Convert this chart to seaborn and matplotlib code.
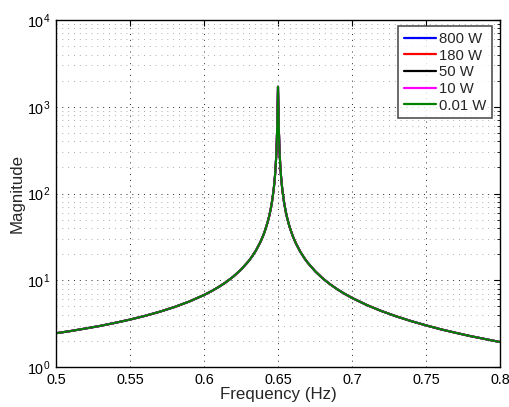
import numpy as np
import pandas as pd
import matplotlib
matplotlib.use("Agg")
import matplotlib.pyplot as plt
import seaborn as sns
from matplotlib.ticker import LogLocator, NullFormatter, FixedLocator

# Data (same response for all powers)
freq = [0.50, 0.51, 0.52, 0.53, 0.54, 0.55, 0.56, 0.57, 0.58, 0.59, 0.60,
        0.605, 0.61, 0.615, 0.62, 0.625, 0.63, 0.632, 0.635, 0.638, 0.64,
        0.641, 0.643, 0.644, 0.645, 0.646, 0.647, 0.6475, 0.648, 0.6485,
        0.649, 0.6495, 0.65, 0.6505, 0.651, 0.6515, 0.652, 0.6525, 0.653,
        0.654, 0.655, 0.656, 0.657, 0.658, 0.66, 0.662, 0.665, 0.668, 0.67,
        0.675, 0.68, 0.685, 0.69, 0.695, 0.70, 0.71, 0.72, 0.73, 0.74, 0.75,
        0.76, 0.77, 0.78, 0.79, 0.80]
magnitude = [2.45, 2.60, 2.78, 2.98, 3.23, 3.52, 3.88, 4.33, 4.91, 5.68, 6.76,
             7.48, 8.38, 9.54, 11.09, 13.26, 16.5, 18.3, 21.9, 27.3, 32.8,
             36.4, 46.7, 54.4, 65.2, 81.5, 108.6, 130, 162.6, 217,
             318, 610, 1700, 610, 318, 216, 162, 130, 108,
             81, 64.8, 53.9, 46.2, 40.4, 32.2, 26.8, 21.4, 17.8, 16.0,
             12.76, 10.59, 9.04, 7.88, 6.98, 6.26, 5.18, 4.41, 3.83, 3.38, 3.02,
             2.72, 2.48, 2.27, 2.10, 1.94]
series = ["800 W", "180 W", "50 W", "10 W", "0.01 W"]
colors = ["#0000ff", "#ff0000", "#000000", "#ff00ff", "#008000"]
xticks = [0.5, 0.55, 0.6, 0.65, 0.7, 0.75, 0.8]
xticklabels = ["0.5", "0.55", "0.6", "0.65", "0.7", "0.75", "0.8"]

df = pd.concat([pd.DataFrame({"Frequency": freq, "Magnitude": magnitude, "Power": s})
                for s in series], ignore_index=True)

sns.set_style("white")
plt.rcParams["font.family"] = ["Liberation Sans", "DejaVu Sans"]
plt.rcParams["mathtext.fontset"] = "custom"
plt.rcParams["mathtext.rm"] = "Liberation Sans"

fig = plt.figure(figsize=(5.10, 4.07), dpi=100)
ax = fig.add_axes([56/510, 1-367/407, 444/510, 347/407])

sns.lineplot(data=df, x="Frequency", y="Magnitude", hue="Power",
             hue_order=series, palette=colors, estimator=None, sort=False,
             linewidth=1.5, ax=ax)

ax.set_yscale("log")
ax.set_xlim(0.5, 0.8)
ax.set_ylim(1, 1e4)
ax.xaxis.set_major_locator(FixedLocator(xticks))
ax.set_xticklabels(xticklabels)
ax.yaxis.set_major_locator(LogLocator(base=10, numticks=10))
ax.yaxis.set_minor_locator(LogLocator(base=10, subs=np.arange(2, 10), numticks=20))
ax.yaxis.set_minor_formatter(NullFormatter())

ax.grid(True, which="major", linestyle=(0, (1, 5)), color="0.15", linewidth=0.7)
ax.grid(True, which="minor", axis="y", linestyle=(0, (1, 5)), color="0.68", linewidth=0.7)

for sp in ax.spines.values():
    sp.set_visible(True)
    sp.set_color("black")
    sp.set_linewidth(1.0)

ax.tick_params(which="both", direction="in", top=True, right=True,
               labelsize=10.4, colors="black", pad=4)
ax.tick_params(which="major", length=4.5)
ax.tick_params(which="minor", length=2.5)

ax.set_xlabel("Frequency (Hz)", fontsize=12.2, labelpad=0)
ax.set_ylabel("Magnitude", fontsize=12.2, labelpad=2)

leg = ax.legend(loc="upper right", bbox_to_anchor=(0.982, 0.983), fontsize=10.7,
                frameon=True, fancybox=False, edgecolor="0.15",
                handlelength=2.15, handletextpad=0.2, borderpad=0.4,
                labelspacing=0.18, borderaxespad=0.0)
leg.get_frame().set_linewidth(1.2)
leg.set_title(None)
for line in leg.get_lines():
    line.set_linewidth(1.6)

fig.savefig("out.png", dpi=100)
